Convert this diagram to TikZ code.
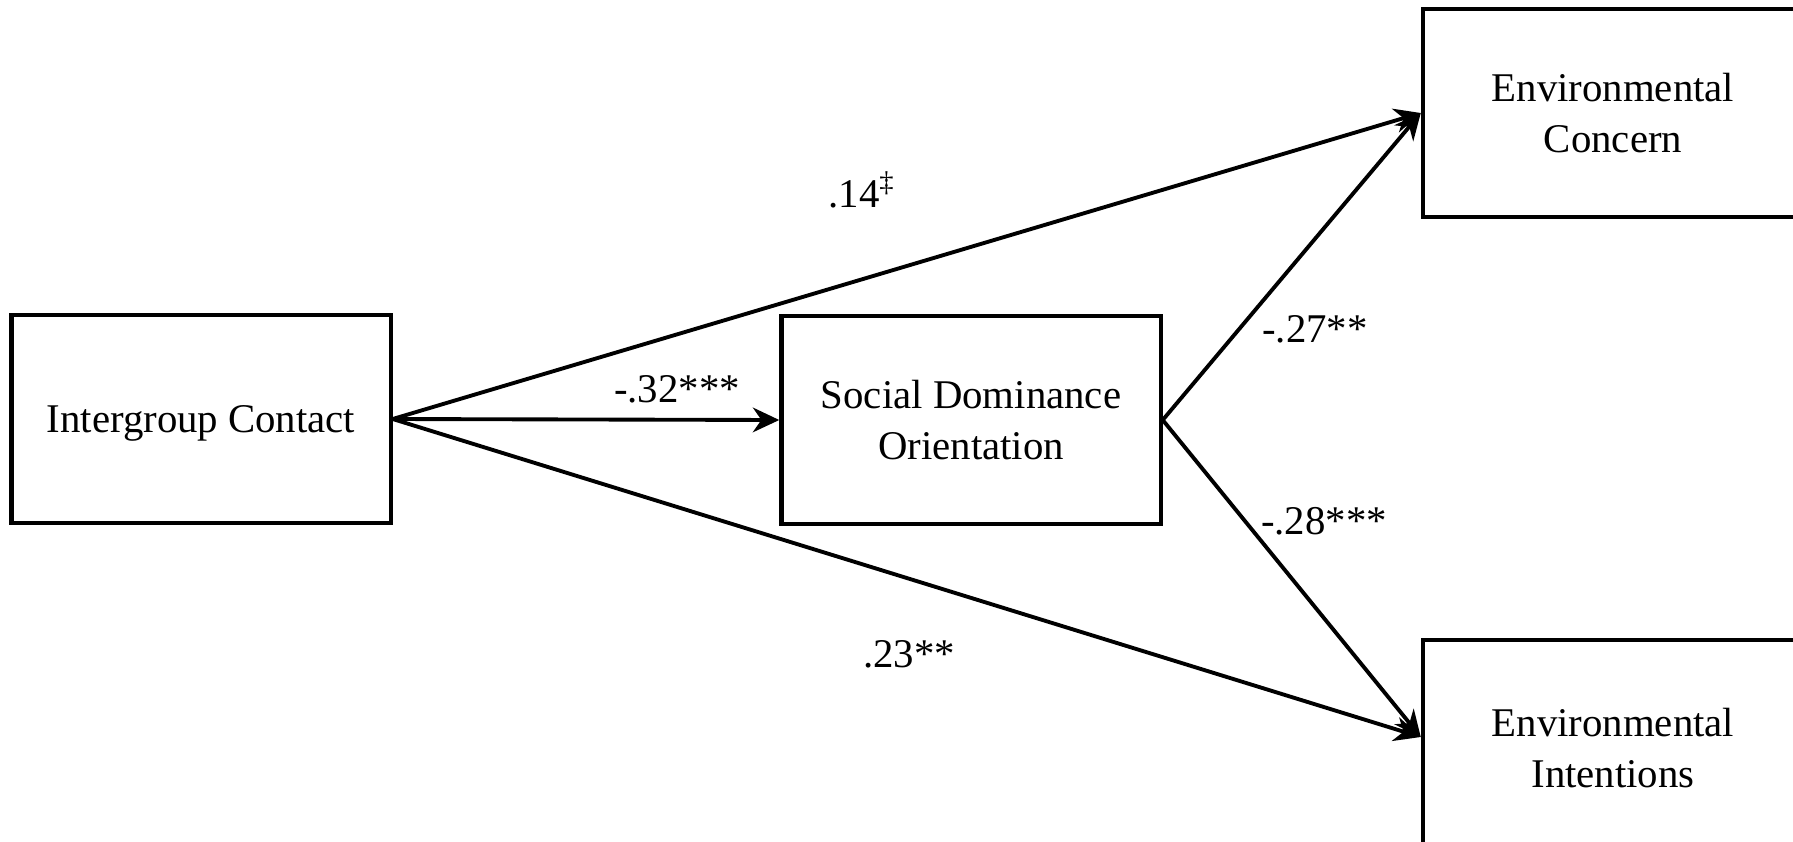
\documentclass[tikz,border=0pt]{standalone}
\usepackage{fontspec}
\setmainfont{Liberation Serif}
\usetikzlibrary{arrows.meta}

\tikzset{
  box/.style={draw, line width=1.2pt, minimum width=3.79cm, minimum height=2.08cm, align=center, text depth=0pt},
  link/.style={line width=1.1pt, -{Stealth[length=7.5pt,width=7pt,inset=2.4pt]}},
  coef/.style={anchor=base}
}

\begin{document}
\begin{tikzpicture}[x=0.01cm, y=-0.01cm, font=\fontsize{11.6}{14.6}\selectfont]
    \useasboundingbox (0,0) rectangle (1793,842);
    \clip (0,0) rectangle (1793,842);

    \node[box] (ic) at (201,419) {Intergroup Contact};
    \node[box] (sdo) at (971,420) {Social Dominance\\Orientation};
    \node[box, minimum width=3.8cm] (ec) at (1613,113) {Environmental\\Concern};
    \node[box, minimum width=3.8cm, minimum height=2.16cm] (ei) at (1613,748) {Environmental\\Intentions};

    \draw[link] (ic.east) -- (sdo.west);
    \draw[link] (ic.east) -- (ec.west);
    \draw[link] (ic.east) -- ([yshift=0.11cm]ei.west);
    \draw[link] (sdo.east) -- (ec.west);
    \draw[link] (sdo.east) -- ([yshift=0.11cm]ei.west);

    \node[coef] (c1) at (862,207) {.14\textsuperscript{‡}};
    \node[coef] (c2) at (677,402) {-.32***};
    \node[coef] (c3) at (1315,342) {-.27**};
    \node[coef] (c4) at (1324,534) {-.28***};
    \node[coef] (c5) at (909,667) {.23**};
  \end{tikzpicture}
\end{document}
